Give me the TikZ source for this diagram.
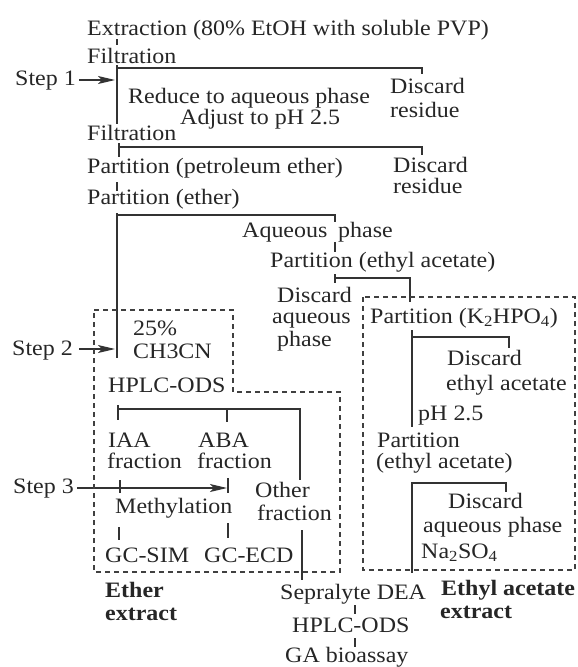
\documentclass[tikz,border=0pt]{standalone}
\usepackage{fontspec}
\setmainfont{Liberation Serif}[FakeStretch=1.09]
\usetikzlibrary{arrows.meta}
\begin{document}
\begin{tikzpicture}[x=1pt,y=-1pt,
  txt/.style={anchor=base west, inner sep=0pt, font=\fontsize{22}{23}\selectfont, text=black!85},
  btxt/.style={txt, font=\fontsize{22}{23}\selectfont\bfseries},
  conn/.style={draw=black!80, line width=1.1pt},
  arr/.style={conn, -{Stealth[length=17pt,width=8pt,inset=4pt]}},
  dbox/.style={draw=black!75, line width=1.1pt, dash pattern=on 5pt off 4pt}]
\useasboundingbox (0,0) rectangle (578,667);

% ---------- text nodes ----------
\node[txt] (ext) at (87,35) {Extraction (80\% EtOH with soluble PVP)};
\node[txt] (filt1) at (87,63) {Filtration};
\node[txt] (step1) at (15,85) {Step 1};
\node[txt] (red) at (128,103) {Reduce to aqueous phase};
\node[txt] (adj) at (180,124) {Adjust to pH 2.5};
\node[txt] (dr1a) at (390,93) {Discard};
\node[txt] (dr1b) at (390,117) {residue};
\node[txt] (filt2) at (87,140) {Filtration};
\node[txt] (pp) at (87,173) {Partition (petroleum ether)};
\node[txt] (dr2a) at (393,172) {Discard};
\node[txt] (dr2b) at (393,193) {residue};
\node[txt] (pe) at (87,204) {Partition (ether)};
\node[txt] (aq) at (242,237) {Aqueous};
\node[txt] (aqph) at (338,237) {phase};
\node[txt] (pea) at (270,267) {Partition (ethyl acetate)};
\node[txt] (daqa) at (277,302) {Discard};
\node[txt] (daqb) at (272,323) {aqueous};
\node[txt] (daqc) at (277,346) {phase};
\node[txt] (pk) at (370,323) {Partition (K\textsubscript{2}HPO\textsubscript{4})};
\node[txt] (deaa) at (447,365) {Discard};
\node[txt] (deab) at (446,390) {ethyl acetate};
\node[txt] (ph25) at (418,420) {pH 2.5};
\node[txt] (peaa) at (377,447) {Partition};
\node[txt] (peab) at (376,468) {(ethyl acetate)};
\node[txt] (daq2a) at (448,508) {Discard};
\node[txt] (daq2b) at (423,532) {aqueous phase};
\node[txt] (na) at (421,558) {Na\textsubscript{2}SO\textsubscript{4}};
\node[btxt] (eaea) at (441,595) {Ethyl acetate};
\node[btxt] (eaeb) at (440,618) {extract};
\node[txt] (sep) at (280,599) {Sepralyte DEA};
\node[txt] (hplc2) at (292,632) {HPLC-ODS};
\node[txt] (ga) at (285,662) {GA bioassay};
\node[txt] (step2) at (12,355) {Step 2};
\node[txt] (p25) at (133,335) {25\%};
\node[txt] (ch) at (133,358) {CH3CN};
\node[txt] (hplc) at (108,392) {HPLC-ODS};
\node[txt] (iaa) at (108,447) {IAA};
\node[txt] (iaaf) at (107,468) {fraction};
\node[txt] (aba) at (198,447) {ABA};
\node[txt] (abaf) at (197,468) {fraction};
\node[txt] (step3) at (13,493) {Step 3};
\node[txt] (oth) at (255,497) {Other};
\node[txt] (othf) at (257,520) {fraction};
\node[txt] (meth) at (115,513) {Methylation};
\node[txt] (gcs) at (105,562) {GC-SIM};
\node[txt] (gce) at (204,562) {GC-ECD};
\node[btxt] (eea) at (105,597) {Ether};
\node[btxt] (eeb) at (105,620) {extract};

% ---------- junction coordinates ----------
\coordinate (a1) at (117,39);  \coordinate (a2) at (117,45);
\coordinate (v1a) at (117,65); \coordinate (v1b) at (117,124);
\coordinate (b1l) at (117,68); \coordinate (b1r) at (422,68); \coordinate (b1d) at (422,74);
\coordinate (s1e) at (115,80);
\coordinate (t2a) at (119,143); \coordinate (t2b) at (119,157);
\coordinate (b2l) at (119,147); \coordinate (b2r) at (422,147); \coordinate (b2d) at (422,155);
\coordinate (t3a) at (117,182); \coordinate (t3b) at (117,191);
\coordinate (v2a) at (117,213); \coordinate (v2b) at (117,358);
\coordinate (b3r) at (335,215); \coordinate (b3d) at (335,222); \coordinate (b3l) at (117,215);
\coordinate (t4a) at (335,242); \coordinate (t4b) at (335,252);
\coordinate (t5a) at (335,274); \coordinate (t5b) at (335,283);
\coordinate (b5l) at (335,278); \coordinate (b5r) at (410,278); \coordinate (b5d) at (410,302);
\coordinate (v3a) at (412,330); \coordinate (v3b) at (412,427);
\coordinate (b6l) at (412,337); \coordinate (b6r) at (509,337); \coordinate (b6d) at (509,348);
\coordinate (v4a) at (412,482); \coordinate (v4b) at (412,573);
\coordinate (b7l) at (412,483); \coordinate (b7r) at (506,483); \coordinate (b7d) at (506,492);
\coordinate (s2e) at (115,349);
\coordinate (t6a) at (118,405); \coordinate (t6b) at (118,420);
\coordinate (b8l) at (118,409); \coordinate (b8r) at (300,409); \coordinate (b8m) at (227,409);
\coordinate (b8md) at (227,422); \coordinate (b8rd) at (300,480);
\coordinate (s3e) at (227,488);
\coordinate (ti1a) at (120,480); \coordinate (ti1b) at (120,493);
\coordinate (ti2a) at (228,478); \coordinate (ti2b) at (228,493);
\coordinate (tm1a) at (119,527); \coordinate (tm1b) at (119,540);
\coordinate (tm2a) at (228,523); \coordinate (tm2b) at (228,538);
\coordinate (vo1) at (302,530); \coordinate (vo2) at (302,580);
\coordinate (tg1a) at (355,605); \coordinate (tg1b) at (355,614);
\coordinate (tg2a) at (355,638); \coordinate (tg2b) at (355,647);

% ---------- connectors ----------
\draw[conn] (a1) -- (a2);
\draw[conn] (v1a) -- (v1b);
\draw[conn] (b1l) -- (b1r) -- (b1d);
\draw[arr] (step1.east |- s1e) ++(3,0) -- (s1e);
\draw[conn] (t2a) -- (t2b);
\draw[conn] (b2l) -- (b2r) -- (b2d);
\draw[conn] (t3a) -- (t3b);
\draw[conn] (v2a) -- (v2b);
\draw[conn] (b3l) -- (b3r) -- (b3d);
\draw[conn] (t4a) -- (t4b);
\draw[conn] (t5a) -- (t5b);
\draw[conn] (b5l) -- (b5r) -- (b5d);
\draw[conn] (v3a) -- (v3b);
\draw[conn] (b6l) -- (b6r) -- (b6d);
\draw[conn] (v4a) -- (v4b);
\draw[conn] (b7l) -- (b7r) -- (b7d);
\draw[arr] (step2.east |- s2e) ++(6,0) -- (s2e);
\draw[conn] (t6a) -- (t6b);
\draw[conn] (b8l) -- (b8r) -- (b8rd);
\draw[conn] (b8m) -- (b8md);
\draw[arr] (step3.east |- s3e) ++(3,0) -- (s3e);
\draw[conn] (ti1a) -- (ti1b);
\draw[conn] (ti2a) -- (ti2b);
\draw[conn] (tm1a) -- (tm1b);
\draw[conn] (tm2a) -- (tm2b);
\draw[conn] (vo1) -- (vo2);
\draw[conn] (tg1a) -- (tg1b);
\draw[conn] (tg2a) -- (tg2b);

% ---------- dashed boxes ----------
\draw[dbox] (94,310) -- (233,310) -- (233,392) -- (340,392) -- (340,572) -- (94,572) -- cycle;
\draw[dbox] (363,297) rectangle (575,570);
\end{tikzpicture}
\end{document}
